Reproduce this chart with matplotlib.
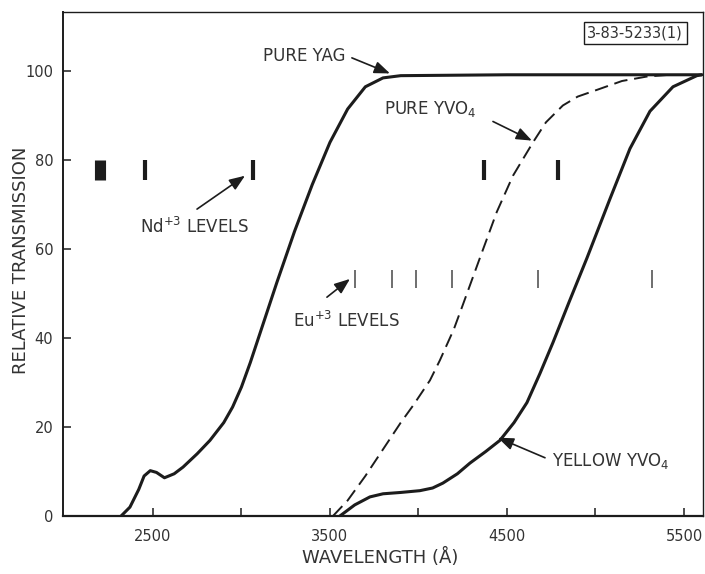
import numpy as np
import matplotlib
matplotlib.use('Agg')
import matplotlib.pyplot as plt

matplotlib.rcParams.update({'font.size': 10.5, 'font.family': 'DejaVu Sans'})

# curvas (comprimento de onda em angstrom, transmissao relativa)
yag_wl = [2320, 2370, 2420, 2450, 2485, 2520, 2565, 2620, 2670, 2750, 2822, 2900,
          2950, 3000, 3050, 3100, 3150, 3200, 3300, 3400, 3500, 3600, 3700, 3800,
          3900, 4500, 5600]
yag_t = [0, 2, 6, 9, 10.2, 9.8, 8.6, 9.5, 11, 14, 17, 21,
         24.5, 29, 34.5, 40.5, 46.5, 52.5, 64, 74.5, 84, 91.5, 96.5, 98.5,
         99, 99.2, 99.2]

yvo_wl = [3517, 3600, 3700, 3800, 3900, 3969, 4065, 4121, 4200, 4251, 4347, 4443,
          4534, 4647, 4720, 4816, 4900, 5008, 5150, 5290, 5420]
yvo_t = [0, 3.5, 9, 15, 21, 24.8, 30.5, 35, 42, 47.5, 58, 68.4,
         76.5, 84, 88.5, 92.3, 94.3, 95.8, 97.8, 98.8, 99.2]

yel_wl = [3556, 3640, 3726, 3800, 3900, 4008, 4080, 4138, 4220, 4291, 4380, 4460,
          4540, 4613, 4686, 4760, 4850, 4952, 5082, 5195, 5308, 5438, 5573, 5600]
yel_t = [0, 2.5, 4.3, 5, 5.3, 5.7, 6.3, 7.4, 9.5, 11.9, 14.5, 17,
         21, 25.5, 32, 39, 48, 58, 71.3, 82.6, 91, 96.5, 99, 99.2]

# niveis
nd_levels = [2200, 2455, 3065, 4370, 4790]
eu_levels = [3641, 3850, 3986, 4189, 4675, 5319]

xticks = [2500, 3000, 3500, 4000, 4500, 5000, 5500]
xlabels = ['2500', '', '3500', '', '4500', '', '5500']
yticks = [0, 20, 40, 60, 80, 100]

ink = '#1c1c1c'
txt = '#333333'

fig = plt.figure(figsize=(7.05, 5.74), dpi=100)
ax = fig.add_axes([0.0894, 0.101, 0.9076, 0.878])

ax.plot(yag_wl, yag_t, '-', color=ink, linewidth=2.2, solid_capstyle='round')
ax.plot(yel_wl, yel_t, '-', color=ink, linewidth=2.2, solid_capstyle='round')
ax.plot(yvo_wl, yvo_t, '--', color=ink, linewidth=1.4, dashes=(7, 3.5))

ax.vlines(nd_levels, 75.5, 80, colors=ink, linewidth=[8, 3, 3, 3, 3])
ax.vlines(eu_levels, 51.2, 55.3, colors='#555555', linewidth=1.2)

ax.set_xlim(1992, 5607)
ax.set_ylim(0, 113.3)
ax.set_xticks(xticks)
ax.set_xticklabels(xlabels)
ax.set_yticks(yticks)
ax.tick_params(direction='in', length=6, width=1.1, colors=ink, labelcolor=txt)
ax.tick_params(axis='x', pad=9)
ax.tick_params(axis='y', pad=7)
for s in ax.spines.values():
    s.set_color(ink)
    s.set_linewidth(1.0)
ax.spines['bottom'].set_linewidth(1.6)
ax.spines['left'].set_linewidth(1.4)

ax.set_xlabel('WAVELENGTH (Å)', fontsize=13, color=txt)
ax.xaxis.set_label_coords(0.495, -0.063)
ax.set_ylabel('RELATIVE TRANSMISSION', fontsize=13, color=txt)
ax.yaxis.set_label_coords(-0.052, 0.508)

arr = dict(arrowstyle='-|>,head_length=0.9,head_width=0.35', color=ink, lw=1.2,
           shrinkA=0, shrinkB=0)
fs = 12

ax.text(3353, 103.4, 'PURE YAG', color=txt, ha='center', va='center', fontsize=fs)
ax.annotate('', xy=(3839, 99.5), xytext=(3624, 103), arrowprops=arr)

ax.text(4065, 91.6, r'PURE YVO$_{\mathregular{4}}$', color=txt, ha='center',
        va='center', fontsize=fs)
ax.annotate('', xy=(4641, 84.4), xytext=(4421, 88.7), arrowprops=arr)

ax.text(2427, 65, r'Nd$^{\mathregular{+3}}$ LEVELS', color=txt, ha='left',
        va='center', fontsize=fs)
ax.annotate('', xy=(3020, 76.5), xytext=(2749, 69), arrowprops=arr)

ax.text(3291, 43.8, r'Eu$^{\mathregular{+3}}$ LEVELS', color=txt, ha='left',
        va='center', fontsize=fs)
ax.annotate('', xy=(3613, 53.3), xytext=(3483, 49.2), arrowprops=arr)

ax.text(4754, 12.4, r'YELLOW YVO$_{\mathregular{4}}$', color=txt, ha='left',
        va='center', fontsize=fs)
ax.annotate('', xy=(4449, 17.6), xytext=(4715, 13.1), arrowprops=arr)

ax.text(0.894, 0.958, '3-83-5233(1)', transform=ax.transAxes, color=txt,
        ha='center', va='center', fontsize=10.5,
        bbox=dict(boxstyle='square,pad=0.25', fc='white', ec=ink, lw=1.0))

fig.savefig('out.png', dpi=100)
